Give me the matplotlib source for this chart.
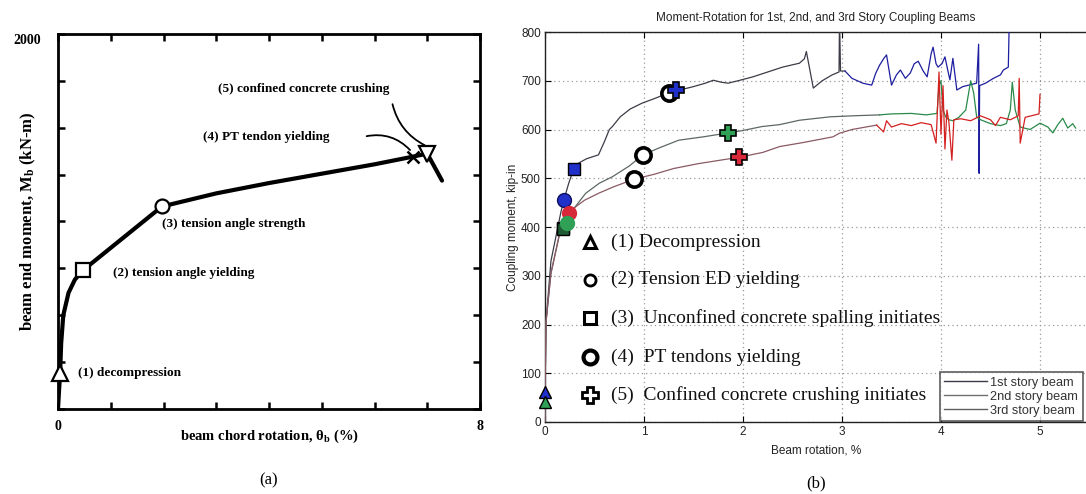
import matplotlib
matplotlib.use("Agg")
import matplotlib.pyplot as plt
from matplotlib.lines import Line2D

plt.rcParams["mathtext.fontset"] = "custom"
plt.rcParams["mathtext.rm"] = "Liberation Serif"
plt.rcParams["mathtext.it"] = "Liberation Serif:italic"
plt.rcParams["mathtext.bf"] = "Liberation Serif:bold"

# ---------------- Panel (a) data ----------------
a_rot = [0, 0.02, 0.04, 0.06, 0.10, 0.20, 0.32, 0.47, 1.97, 3.0, 4.0, 5.0, 6.0, 6.73, 7.0, 7.28]
a_mom = [0, 100, 191, 350, 500, 620, 690, 739, 1080, 1150, 1205, 1255, 1305, 1346, 1362, 1218]
a_evt_rot = [0.04, 0.47, 1.97, 6.73, 7.0]
a_evt_mom = [191, 739, 1080, 1346, 1362]
a_evt_labels = ["(1) decompression", "(2) tension angle yielding",
                "(3) tension angle strength", "(4) PT tendon yielding",
                "(5) confined concrete crushing"]

# ---------------- Panel (b) data ----------------
# 1st story beam
s1_rot = [0, 0.003, 0.01, 0.06, 0.12, 0.16, 0.19, 0.24, 0.29, 0.33, 0.42, 0.54, 0.60, 0.65,
          0.68, 0.76, 0.86, 0.98, 1.10, 1.25, 1.38, 1.50, 1.62, 1.70, 1.78, 1.85, 1.95,
          2.10, 2.25, 2.40, 2.57, 2.62, 2.64, 2.71, 2.80, 2.90, 2.97, 2.975, 2.985, 3.03]
s1_mom = [0, 100, 205, 330, 390, 430, 455, 490, 519, 530, 540, 548, 575, 600,
          606, 626, 642, 654, 663, 675, 682, 688, 695, 701, 697, 695, 700,
          708, 718, 728, 736, 745, 760, 685, 700, 712, 718, 830, 720, 720]
s1n_rot = [3.03, 3.10, 3.21, 3.30, 3.34, 3.38, 3.42, 3.45, 3.50, 3.55, 3.59, 3.64, 3.69,
           3.73, 3.77, 3.82, 3.86, 3.90, 3.92, 3.95, 3.97, 4.01, 4.04, 4.07, 4.09, 4.12,
           4.16, 4.22, 4.30, 4.36, 4.38, 4.385, 4.39, 4.45, 4.53, 4.60, 4.63, 4.68, 4.69]
s1n_mom = [720, 705, 695, 691, 715, 732, 745, 753, 691, 712, 722, 705, 716,
           735, 740, 720, 708, 755, 769, 735, 728, 735, 749, 720, 702, 746,
           681, 688, 692, 695, 775, 510, 690, 695, 705, 712, 722, 728, 830]
# 2nd story beam
s2_rot = [0, 0.003, 0.01, 0.06, 0.16, 0.22, 0.30, 0.41, 0.55, 0.68, 0.85, 0.99, 1.15,
          1.35, 1.60, 1.85, 2.00, 2.19, 2.37, 2.57, 2.88, 3.10, 3.38]
s2_mom = [0, 100, 205, 305, 398, 408, 440, 469, 490, 503, 525, 548, 562,
          578, 585, 593, 598, 606, 610, 619, 626, 628, 630]
s2n_rot = [3.38, 3.50, 3.70, 3.85, 3.96, 3.98, 4.00, 4.02, 4.05, 4.08, 4.12, 4.18, 4.25,
           4.30, 4.33, 4.36, 4.40, 4.50, 4.60, 4.66, 4.70, 4.72, 4.75, 4.80, 4.90, 5.00,
           5.08, 5.13, 5.18, 5.23, 5.28, 5.33, 5.36]
s2n_mom = [630, 632, 633, 630, 633, 690, 700, 640, 625, 620, 618, 625, 640,
           700, 675, 626, 620, 612, 608, 612, 640, 697, 640, 605, 600, 613,
           605, 593, 610, 623, 603, 612, 603]
# 3rd story beam
s3_rot = [0, 0.003, 0.01, 0.06, 0.16, 0.24, 0.30, 0.40, 0.55, 0.70, 0.90, 1.10, 1.30,
          1.55, 1.80, 1.96, 2.20, 2.37, 2.60, 2.91, 2.97, 3.10, 3.35]
s3_mom = [0, 100, 205, 305, 398, 428, 440, 455, 470, 483, 498, 508, 520,
          530, 538, 543, 553, 565, 573, 585, 592, 600, 609]
s3n_rot = [3.35, 3.42, 3.45, 3.50, 3.60, 3.70, 3.80, 3.90, 3.95, 3.98, 4.00, 4.02, 4.04,
           4.06, 4.08, 4.11, 4.13, 4.20, 4.30, 4.40, 4.50, 4.55, 4.60, 4.70, 4.78, 4.79,
           4.80, 4.85, 4.95, 4.99, 5.00]
s3n_mom = [609, 595, 618, 605, 612, 608, 614, 610, 572, 718, 590, 690, 560,
           640, 615, 537, 620, 622, 618, 628, 620, 608, 625, 620, 628, 705,
           572, 625, 630, 632, 672]

series_names = ["1st story beam", "2nd story beam", "3rd story beam"]

# event markers on curves: (rotation, moment) per series [1st, 2nd, 3rd]
decomp_rot = [0.0, 0.0]
decomp_mom = [62, 41]
ed_rot = [0.19, 0.22, 0.24]
ed_mom = [455, 408, 428]
spall_rot = [0.29, 0.18, 0.18]
spall_mom = [519, 395, 398]
pt_rot = [1.25, 0.99, 0.90]
pt_mom = [675, 548, 498]
crush_rot = [1.32, 1.85, 1.96]
crush_mom = [681, 593, 543]

b_key_labels = ["(1) Decompression", "(2) Tension ED yielding",
                "(3)  Unconfined concrete spalling initiates",
                "(4)  PT tendons yielding",
                "(5)  Confined concrete crushing initiates"]
b_key_mom = [369, 292, 214, 133, 55]

W, H = 1086, 494
fig = plt.figure(figsize=(W / 100, H / 100), dpi=100)

serif = "Liberation Serif"
sans = "Liberation Sans"

# ================= Panel (a) =================
axA = fig.add_axes([58 / W, 1 - 409 / H, 422 / W, 375 / H])
axA.plot(a_rot, a_mom, color="black", lw=3, solid_capstyle="round", zorder=2)
axA.plot(a_evt_rot[0], a_evt_mom[0], marker="^", ms=11, mfc="white", mec="black", mew=1.6, clip_on=False, zorder=3)
axA.plot(a_evt_rot[1], a_evt_mom[1], marker="s", ms=10, mfc="white", mec="black", mew=1.6, zorder=3)
axA.plot(a_evt_rot[2], a_evt_mom[2], marker="o", ms=10, mfc="white", mec="black", mew=1.6, zorder=3)
axA.plot(a_evt_rot[3], a_evt_mom[3], marker="x", ms=9, mec="black", mew=1.8, zorder=3)
axA.plot(a_evt_rot[4], a_evt_mom[4], marker="v", ms=11, mfc="white", mec="black", mew=1.6, zorder=3)
axA.set_xlim(0, 8)
axA.set_ylim(0, 2000)
axA.set_xticks(range(0, 9))
axA.set_xticklabels(["0", "", "", "", "", "", "", "", "8"])
axA.set_yticks(range(0, 2001, 250))
axA.set_yticklabels([""] * 8 + ["2000"])
axA.tick_params(direction="in", length=5, width=1.8, top=True, right=True, pad=8)
axA.tick_params(axis="y", pad=12)
for lab in axA.get_xticklabels() + axA.get_yticklabels():
    lab.set_fontfamily(serif)
    lab.set_fontweight("bold")
    lab.set_fontsize(10)
for lab in axA.get_yticklabels():
    lab.set_verticalalignment("top")
for sp in axA.spines.values():
    sp.set_linewidth(2)
axA.set_xlabel(r"beam chord rotation, $\mathbf{\theta_b}$ (%)", fontfamily=serif,
               fontweight="bold", fontsize=10.5, labelpad=-4)
fig.text(28 / W, 1 - 221 / H, r"beam end moment, $\mathbf{M_b}$ (kN-m)", fontfamily=serif,
         fontweight="bold", fontsize=12, rotation=90, ha="center", va="center")

tkw = dict(fontfamily=serif, fontweight="bold", fontsize=9.5, va="center", ha="left")
axA.text(0.38, 191, a_evt_labels[0], **tkw)
axA.text(1.04, 723, a_evt_labels[1], **tkw)
axA.text(1.97, 984, a_evt_labels[2], **tkw)
axA.text(2.75, 1452, a_evt_labels[3], **tkw)
axA.text(3.03, 1707, a_evt_labels[4], **tkw)
axA.annotate("", xy=(6.71, 1370), xytext=(5.80, 1452),
             arrowprops=dict(arrowstyle="-", color="black", lw=1.3,
                             connectionstyle="arc3,rad=-0.3"))
axA.annotate("", xy=(7.0, 1400), xytext=(6.33, 1640),
             arrowprops=dict(arrowstyle="-", color="black", lw=1.3,
                             connectionstyle="arc3,rad=0.25"))

fig.text(269 / W, 1 - 480 / H, "(a)", fontfamily=serif, fontsize=12, ha="center", va="center")

# ================= Panel (b) =================
x_right_px = 1095
axB = fig.add_axes([545 / W, 1 - 422 / H, (x_right_px - 545) / W, 390 / H])
axB.set_xlim(0, (x_right_px - 545) / 99.0)
axB.set_ylim(0, 800)

smooth_cols = ["#3c3c48", "#5c6862", "#8a5a64"]
noisy_cols = ["#1e1ea0", "#2a8a4a", "#d42020"]
axB.plot(s1_rot, s1_mom, color=smooth_cols[0], lw=0.9, zorder=3)
axB.plot(s1n_rot, s1n_mom, color=noisy_cols[0], lw=0.9, zorder=3)
axB.plot(s2_rot, s2_mom, color=smooth_cols[1], lw=0.9, zorder=3)
axB.plot(s2n_rot, s2n_mom, color=noisy_cols[1], lw=0.9, zorder=3)
axB.plot(s3_rot, s3_mom, color=smooth_cols[2], lw=0.9, zorder=3)
axB.plot(s3n_rot, s3n_mom, color=noisy_cols[2], lw=0.9, zorder=3)

mk_cols = ["#2030c8", "#2fa055", "#d8283a"]
mk = dict(mec="black", mew=1.0, zorder=5, clip_on=False, ls="none")
for i in range(2):
    axB.plot(decomp_rot[i], decomp_mom[i], marker="^", ms=9, mfc=[mk_cols[0], mk_cols[1]][i], **mk)
for i in [2, 1, 0]:
    axB.plot(spall_rot[i], spall_mom[i], marker="s", ms=9,
             mfc=["#2030c8", "#1f5a35", "#1f5a35"][i], **mk)
for i in [0, 2, 1]:
    axB.plot(ed_rot[i], ed_mom[i], marker="o", ms=10, mfc=mk_cols[i], mec=mk_cols[i] if i else "#101060",
             mew=1.0, zorder=6, ls="none")
for i in range(3):
    axB.plot(pt_rot[i], pt_mom[i], marker="o", ms=11, mfc="white", mec="black", mew=2.6, zorder=6, ls="none")
for i in range(3):
    axB.plot(crush_rot[i], crush_mom[i], marker="P", ms=11, mfc=mk_cols[i], mec="black", mew=1.2, zorder=7, ls="none")

# key (marker + text) inside plot
key_x = 0.45
text_x = 0.67
axB.plot(key_x, b_key_mom[0], marker="^", ms=9, mfc="white", mec="black", mew=2.2, zorder=6)
axB.plot(key_x, b_key_mom[1], marker="o", ms=8, mfc="white", mec="black", mew=2.0, zorder=6)
axB.plot(key_x, b_key_mom[2], marker="s", ms=8, mfc="white", mec="black", mew=2.2, zorder=6)
axB.plot(key_x, b_key_mom[3], marker="o", ms=10, mfc="white", mec="black", mew=3.0, zorder=6)
axB.plot(key_x, b_key_mom[4], marker="P", ms=11, mfc="white", mec="black", mew=2.0, zorder=6)
for lab, yv in zip(b_key_labels, b_key_mom):
    axB.text(text_x, yv, lab, fontfamily=serif, fontsize=14, va="center", ha="left",
             color="#111111", zorder=6)

axB.set_xticks(range(0, 6))
axB.set_yticks(range(0, 801, 100))
axB.grid(True, color="#9a9a9a", linestyle=(0, (1, 2.5)), lw=0.9)
axB.set_axisbelow(True)
axB.tick_params(direction="in", length=4, width=0.8, top=True, right=True,
                labelsize=8.5, labelcolor="#222222", pad=3)
for lab in axB.get_xticklabels() + axB.get_yticklabels():
    lab.set_fontfamily(sans)
for sp in axB.spines.values():
    sp.set_linewidth(1.0)
    sp.set_color("#222222")

fig.text(816 / W, 1 - 18 / H, "Moment-Rotation for 1st, 2nd, and 3rd Story Coupling Beams",
         fontfamily=sans, fontsize=8.5, ha="center", va="center", color="#222222")
fig.text(816 / W, 1 - 450 / H, "Beam rotation, %", fontfamily=sans, fontsize=8.5,
         ha="center", va="center", color="#222222")
fig.text(513 / W, 1 - 227 / H, "Coupling moment, kip-in", fontfamily=sans, fontsize=8.5,
         ha="center", va="center", rotation=90, color="#222222")
fig.text(816 / W, 1 - 483 / H, "(b)", fontfamily=serif, fontsize=12, ha="center", va="center")

handles = [Line2D([], [], color=smooth_cols[0], lw=1.0),
           Line2D([], [], color="#707070", lw=1.0),
           Line2D([], [], color="#606060", lw=1.0)]
leg = axB.legend(handles, series_names, loc="lower left",
                 bbox_to_anchor=(940 / W, 1 - 421 / H), bbox_transform=fig.transFigure,
                 prop={"family": sans, "size": 9.2}, frameon=True, fancybox=False,
                 borderpad=0.35, labelspacing=0.15, handlelength=3.3, handletextpad=0.3,
                 borderaxespad=0)
leg.get_frame().set_edgecolor("#333333")
leg.get_frame().set_linewidth(1.2)
for t in leg.get_texts():
    t.set_color("#333333")
leg.set_zorder(10)

fig.savefig("out.png", dpi=100)
